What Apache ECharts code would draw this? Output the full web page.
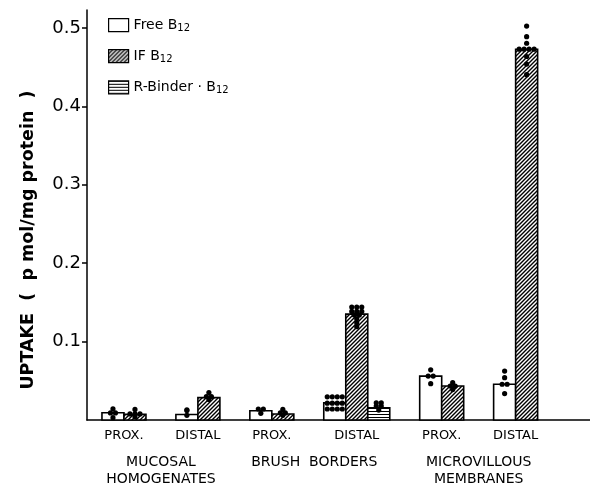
<!DOCTYPE html>
<html>
<head>
<meta charset="utf-8">
<script src="https://cdn.jsdelivr.net/npm/echarts@6/dist/echarts.min.js"></script>
<style>html,body{margin:0;padding:0;background:#fff}#c{width:590px;height:488px}</style>
</head>
<body>
<div id="c"></div>
<script>
// ---- data ----
const sites = ['PROX.', 'DISTAL', 'PROX.', 'DISTAL', 'PROX.', 'DISTAL'];
const tissues = ['MUCOSAL\nHOMOGENATES', 'BRUSH  BORDERS', 'MICROVILLOUS\nMEMBRANES'];
const yTicks = [0.1, 0.2, 0.3, 0.4, 0.5];
const seriesNames = ['Free B12', 'IF B12', 'R-Binder · B12'];
const freeB12 = [0.0093, 0.0070, 0.0118, 0.0219, 0.0560, 0.0456];
const ifB12 = [0.0072, 0.0286, 0.0076, 0.1350, 0.0434, 0.4730];
const rBinderB12 = [null, null, null, 0.0156, null, null];
const freeDots = [
  [0.0143, 0.0090, 0.0090, 0.0030],
  [0.0130, 0.0120, 0.0060],
  [0.0140, 0.0140, 0.0085],
  [0.0295, 0.0295, 0.0295, 0.0295, 0.0215, 0.0215, 0.0215, 0.0215, 0.0140, 0.0140, 0.0140, 0.0140],
  [0.0640, 0.0560, 0.0560, 0.0463],
  [0.0624, 0.0540, 0.0456, 0.0456, 0.0337]
];
const ifDots = [
  [0.0135, 0.0078, 0.0078, 0.0078, 0.0040],
  [0.0350, 0.0300, 0.0300, 0.0260],
  [0.0135, 0.0090, 0.0090, 0.0060],
  [0.1440, 0.1440, 0.1440, 0.1385, 0.1385, 0.1385, 0.1340, 0.1340, 0.1290, 0.1240, 0.1190],
  [0.0476, 0.0434, 0.0434, 0.0388],
  [0.5025, 0.4890, 0.4806, 0.4730, 0.4730, 0.4730, 0.4730, 0.4637, 0.4540, 0.4405]
];
const rBinderDots = [[], [], [], [0.0220, 0.0220, 0.0177, 0.0177, 0.0127], [], []];

// ---- layout (in bar-width units on a hidden value axis) ----
const LEAD = 0.68, BAR = 1, GAP = 1.36, XMAX = 22.86;
const allVals = [freeB12, ifB12, rBinderB12];
const allDots = [freeDots, ifDots, rBinderDots];
const nBars = sites.map((_, g) => allVals.filter(a => a[g] != null).length);
const groupStart = [];
let pos = LEAD;
nBars.forEach((n, g) => { groupStart[g] = pos; pos += n * BAR + GAP; });
const siteCenters = groupStart.map((s, g) => s + nBars[g] * BAR / 2);
const tissueCenters = [0, 1, 2].map(t => (siteCenters[2 * t] + siteCenters[2 * t + 1]) / 2);

function makePattern(type) {
  const s = type === 'diag' ? 4 : 3;
  const c = document.createElement('canvas');
  c.width = s; c.height = s;
  const ctx = c.getContext('2d');
  ctx.fillStyle = '#fff'; ctx.fillRect(0, 0, s, s);
  ctx.fillStyle = '#000'; ctx.strokeStyle = '#000';
  if (type === 'diag') {
    ctx.lineWidth = 1.4;
    ctx.beginPath();
    ctx.moveTo(0, s); ctx.lineTo(s, 0);
    ctx.moveTo(-1, 1); ctx.lineTo(1, -1);
    ctx.moveTo(s - 1, s + 1); ctx.lineTo(s + 1, s - 1);
    ctx.stroke();
  } else if (type === 'horiz') {
    ctx.fillRect(0, 0, s, 1);
  }
  return { image: c, repeat: 'repeat' };
}
const fills = ['#ffffff', makePattern('diag'), makePattern('horiz')];

function renderer(si) {
  return function (params, api) {
    const g = api.value(0), v = api.value(1);
    const x0 = groupStart[g] + si * BAR;
    const p0 = api.coord([x0, v]);
    const p1 = api.coord([x0 + BAR, 0]);
    const children = [{
      type: 'rect',
      shape: { x: p0[0], y: p0[1], width: p1[0] - p0[0], height: p1[1] - p0[1] },
      style: { fill: fills[si], stroke: '#000', lineWidth: 1.6 }
    }];
    const dots = allDots[si][g] || [];
    const rows = {};
    dots.forEach(d => { rows[d] = (rows[d] || 0) + 1; });
    const cx = (p0[0] + p1[0]) / 2;
    Object.keys(rows).forEach(k => {
      const n = rows[k];
      const cy = api.coord([x0, +k])[1];
      for (let i = 0; i < n; i++) {
        children.push({ type: 'circle', shape: { cx: cx + (i - (n - 1) / 2) * 5, cy: cy, r: 2.6 }, style: { fill: '#000' } });
      }
    });
    return { type: 'group', children: children };
  };
}

const series = allVals.map((vals, si) => ({
  type: 'custom',
  name: seriesNames[si],
  renderItem: renderer(si),
  itemStyle: { color: fills[si], borderColor: '#000', borderWidth: 1.2 },
  encode: { x: 0, y: 1 },
  data: vals.map((v, g) => v == null ? null : [g, v]).filter(d => d)
}));

const chart = echarts.init(document.getElementById('c'));
chart.setOption({
  animation: false,
  backgroundColor: '#fff',
  textStyle: { fontFamily: 'DejaVu Sans', color: '#000' },
  grid: { left: 87, right: 0, top: 10, bottom: 65, containLabel: false },
  legend: {
    orient: 'vertical', left: 103, top: 13, itemWidth: 20, itemHeight: 13, itemGap: 15.5,
    data: seriesNames.map((n, i) => ({ name: n, icon: 'rect', itemStyle: { color: fills[i], borderColor: '#000', borderWidth: 1.2 } })),
    formatter: n => n.replace('B12', 'B{s|12}'),
    textStyle: { fontFamily: 'DejaVu Sans', fontSize: 14, color: '#000',
      rich: { s: { fontFamily: 'DejaVu Sans', fontSize: 10, color: '#000', padding: [7, 0, 0, 0] } } }
  },
  xAxis: [{
    type: 'value', min: 0, max: XMAX,
    axisLine: { show: true, lineStyle: { color: '#000', width: 1.6 } },
    axisTick: { show: false }, splitLine: { show: false },
    axisLabel: {
      customValues: siteCenters, margin: 9, fontSize: 13, color: '#000', fontFamily: 'DejaVu Sans',
      formatter: v => { const i = siteCenters.findIndex(c => Math.abs(c - v) < 1e-6); return i < 0 ? '' : sites[i]; }
    }
  }, {
    type: 'value', min: 0, max: XMAX, position: 'bottom', offset: 25,
    axisLine: { show: false }, axisTick: { show: false }, splitLine: { show: false },
    axisLabel: {
      customValues: tissueCenters, margin: 9, fontSize: 14, lineHeight: 17, color: '#000', fontFamily: 'DejaVu Sans',
      formatter: v => { const i = tissueCenters.findIndex(c => Math.abs(c - v) < 1e-6); return i < 0 ? '' : tissues[i]; }
    }
  }],
  yAxis: {
    type: 'value', min: 0, max: 0.523,
    name: 'UPTAKE  (  p mol/mg protein  )', nameLocation: 'middle', nameGap: 50,
    nameTextStyle: { fontFamily: 'DejaVu Sans', fontWeight: 'bold', fontSize: 17.5, color: '#000', padding: [0, 50, 0, 0] },
    axisLine: { show: true, lineStyle: { color: '#000', width: 1.5 } },
    axisTick: { show: true, length: 5, customValues: yTicks, lineStyle: { color: '#000', width: 1.5 } },
    splitLine: { show: false },
    axisLabel: { customValues: yTicks, formatter: v => v.toFixed(1), fontSize: 18, color: '#000', margin: 6, fontFamily: 'DejaVu Sans' }
  },
  series: series
});
</script>
</body>
</html>
